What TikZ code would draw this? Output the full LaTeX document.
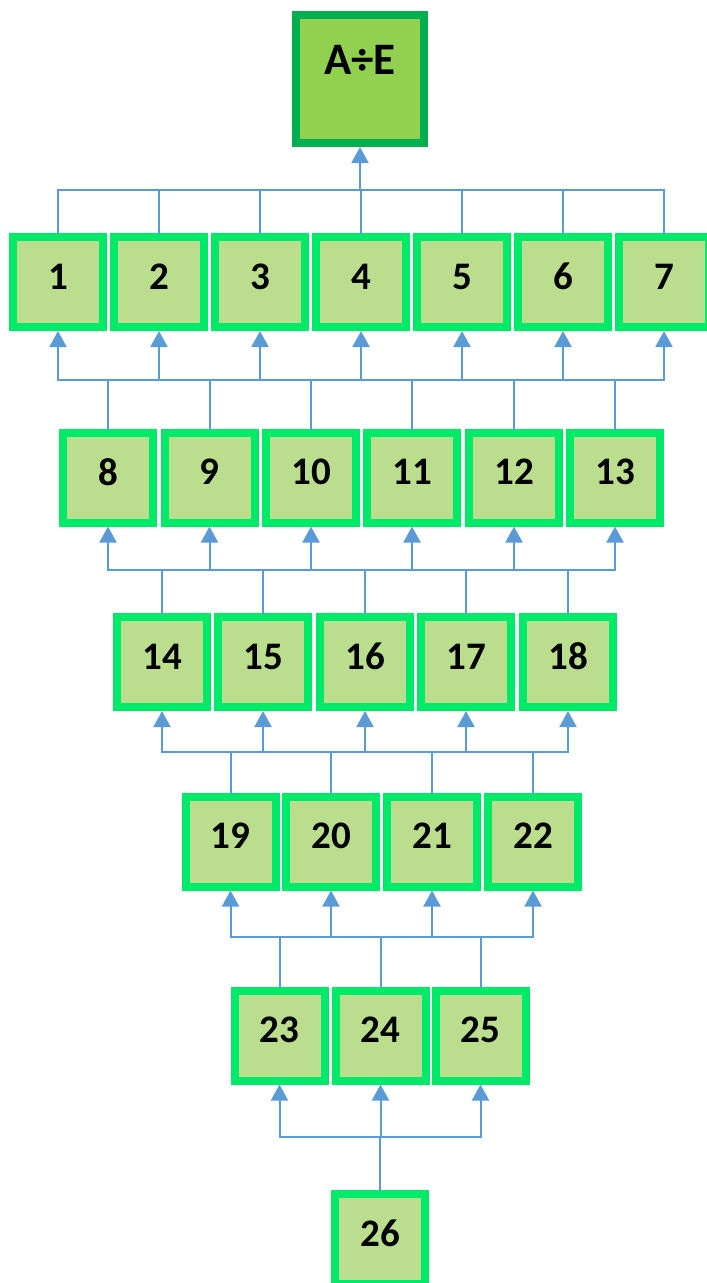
\documentclass[tikz,border=0pt]{standalone}
\usepackage{fontspec}
\setmainfont{Carlito}
\usetikzlibrary{arrows.meta}
\definecolor{leaf}{RGB}{186,222,141}
\definecolor{rim}{RGB}{0,234,106}
\definecolor{rootfill}{RGB}{146,208,80}
\definecolor{rootrim}{RGB}{0,176,80}
\definecolor{wire}{RGB}{91,155,213}

\begin{document}
\begin{tikzpicture}[
  x=1pt, y=-1pt,
  cell/.style={draw=rim, fill=leaf, line width=8pt, inner sep=0pt,
               minimum width=90pt, minimum height=90pt, text depth=11pt,
               font=\fontsize{39}{44}\selectfont\bfseries},
  root/.style={cell, draw=rootrim, fill=rootfill,
               minimum width=128pt, minimum height=128pt, text depth=38pt,
               font=\fontsize{45}{50}\selectfont\bfseries},
  ln/.style={draw=wire, line width=2pt, line cap=rect},
  ar/.style={ln, -{Triangle[length=16pt,width=17pt]}},
]
\useasboundingbox (0,0) rectangle (707,1283);

% result
\node[root] (ae) at (360,79) {A÷E};

% first level
\node[cell] (n1) at (58,282)  {1};
\node[cell] (n2) at (159,282) {2};
\node[cell] (n3) at (260,282) {3};
\node[cell] (n4) at (361,282) {4};
\node[cell] (n5) at (462,282) {5};
\node[cell] (n6) at (563,282) {6};
\node[cell] (n7) at (664,282) {7};

\node[cell] (n8)  at (108,477.5) {8};
\node[cell] (n9)  at (209.5,477.5) {9};
\node[cell] (n10) at (311,477.5) {10};
\node[cell] (n11) at (412,477.5) {11};
\node[cell] (n12) at (514,477.5) {12};
\node[cell] (n13) at (615,477.5) {13};

\node[cell] (n14) at (162,662) {14};
\node[cell] (n15) at (263,662) {15};
\node[cell] (n16) at (365,662) {16};
\node[cell] (n17) at (466,662) {17};
\node[cell] (n18) at (568,662) {18};

\node[cell] (n19) at (230.5,841.5) {19};
\node[cell] (n20) at (331,841.5) {20};
\node[cell] (n21) at (432,841.5) {21};
\node[cell] (n22) at (533,841.5) {22};

\node[cell] (n23) at (279.5,1035.5) {23};
\node[cell] (n24) at (380.5,1035.5) {24};
\node[cell] (n25) at (480.5,1035.5) {25};

\node[cell] (n26) at (380,1239) {26};

% bus heights
\coordinate (b0) at (0,190);
\coordinate (b1) at (0,380);
\coordinate (b2) at (0,570);
\coordinate (b3) at (0,752);
\coordinate (b4) at (0,937);
\coordinate (b5) at (0,1137);

% level 1 -> result
\draw[ln] (n1.north) |- (n7.north |- b0) -- (n7.north);
\draw[ln] (n2.north) -- (n2.north |- b0);
\draw[ln] (n3.north) -- (n3.north |- b0);
\draw[ln] (n4.north) -- (n4.north |- b0);
\draw[ln] (n5.north) -- (n5.north |- b0);
\draw[ln] (n6.north) -- (n6.north |- b0);
\draw[ar] (ae.south |- b0) -- (ae.south);

% level 2 -> level 1
\draw[ln] (n1.south |- b1) -- (n7.south |- b1);
\draw[ar] (n1.south |- b1) -- (n1.south);
\draw[ar] (n2.south |- b1) -- (n2.south);
\draw[ar] (n3.south |- b1) -- (n3.south);
\draw[ar] (n4.south |- b1) -- (n4.south);
\draw[ar] (n5.south |- b1) -- (n5.south);
\draw[ar] (n6.south |- b1) -- (n6.south);
\draw[ar] (n7.south |- b1) -- (n7.south);
\draw[ln] (n8.north)  -- (n8.north |- b1);
\draw[ln] (n9.north)  -- (n9.north |- b1);
\draw[ln] (n10.north) -- (n10.north |- b1);
\draw[ln] (n11.north) -- (n11.north |- b1);
\draw[ln] (n12.north) -- (n12.north |- b1);
\draw[ln] (n13.north) -- (n13.north |- b1);

% level 3 -> level 2
\draw[ln] (n8.south |- b2) -- (n13.south |- b2);
\draw[ar] (n8.south |- b2)  -- (n8.south);
\draw[ar] (n9.south |- b2)  -- (n9.south);
\draw[ar] (n10.south |- b2) -- (n10.south);
\draw[ar] (n11.south |- b2) -- (n11.south);
\draw[ar] (n12.south |- b2) -- (n12.south);
\draw[ar] (n13.south |- b2) -- (n13.south);
\draw[ln] (n14.north) -- (n14.north |- b2);
\draw[ln] (n15.north) -- (n15.north |- b2);
\draw[ln] (n16.north) -- (n16.north |- b2);
\draw[ln] (n17.north) -- (n17.north |- b2);
\draw[ln] (n18.north) -- (n18.north |- b2);

% level 4 -> level 3
\draw[ln] (n14.south |- b3) -- (n18.south |- b3);
\draw[ar] (n14.south |- b3) -- (n14.south);
\draw[ar] (n15.south |- b3) -- (n15.south);
\draw[ar] (n16.south |- b3) -- (n16.south);
\draw[ar] (n17.south |- b3) -- (n17.south);
\draw[ar] (n18.south |- b3) -- (n18.south);
\draw[ln] (n19.north) -- (n19.north |- b3);
\draw[ln] (n20.north) -- (n20.north |- b3);
\draw[ln] (n21.north) -- (n21.north |- b3);
\draw[ln] (n22.north) -- (n22.north |- b3);

% level 5 -> level 4
\draw[ln] (n19.south |- b4) -- (n22.south |- b4);
\draw[ar] (n19.south |- b4) -- (n19.south);
\draw[ar] (n20.south |- b4) -- (n20.south);
\draw[ar] (n21.south |- b4) -- (n21.south);
\draw[ar] (n22.south |- b4) -- (n22.south);
\draw[ln] (n23.north) -- (n23.north |- b4);
\draw[ln] (n24.north) -- (n24.north |- b4);
\draw[ln] (n25.north) -- (n25.north |- b4);

% level 6 -> level 5
\draw[ln] (n23.south |- b5) -- (n25.south |- b5);
\draw[ar] (n23.south |- b5) -- (n23.south);
\draw[ar] (n24.south |- b5) -- (n24.south);
\draw[ar] (n25.south |- b5) -- (n25.south);
\draw[ln] (n26.north) -- (n26.north |- b5);

\end{tikzpicture}
\end{document}
